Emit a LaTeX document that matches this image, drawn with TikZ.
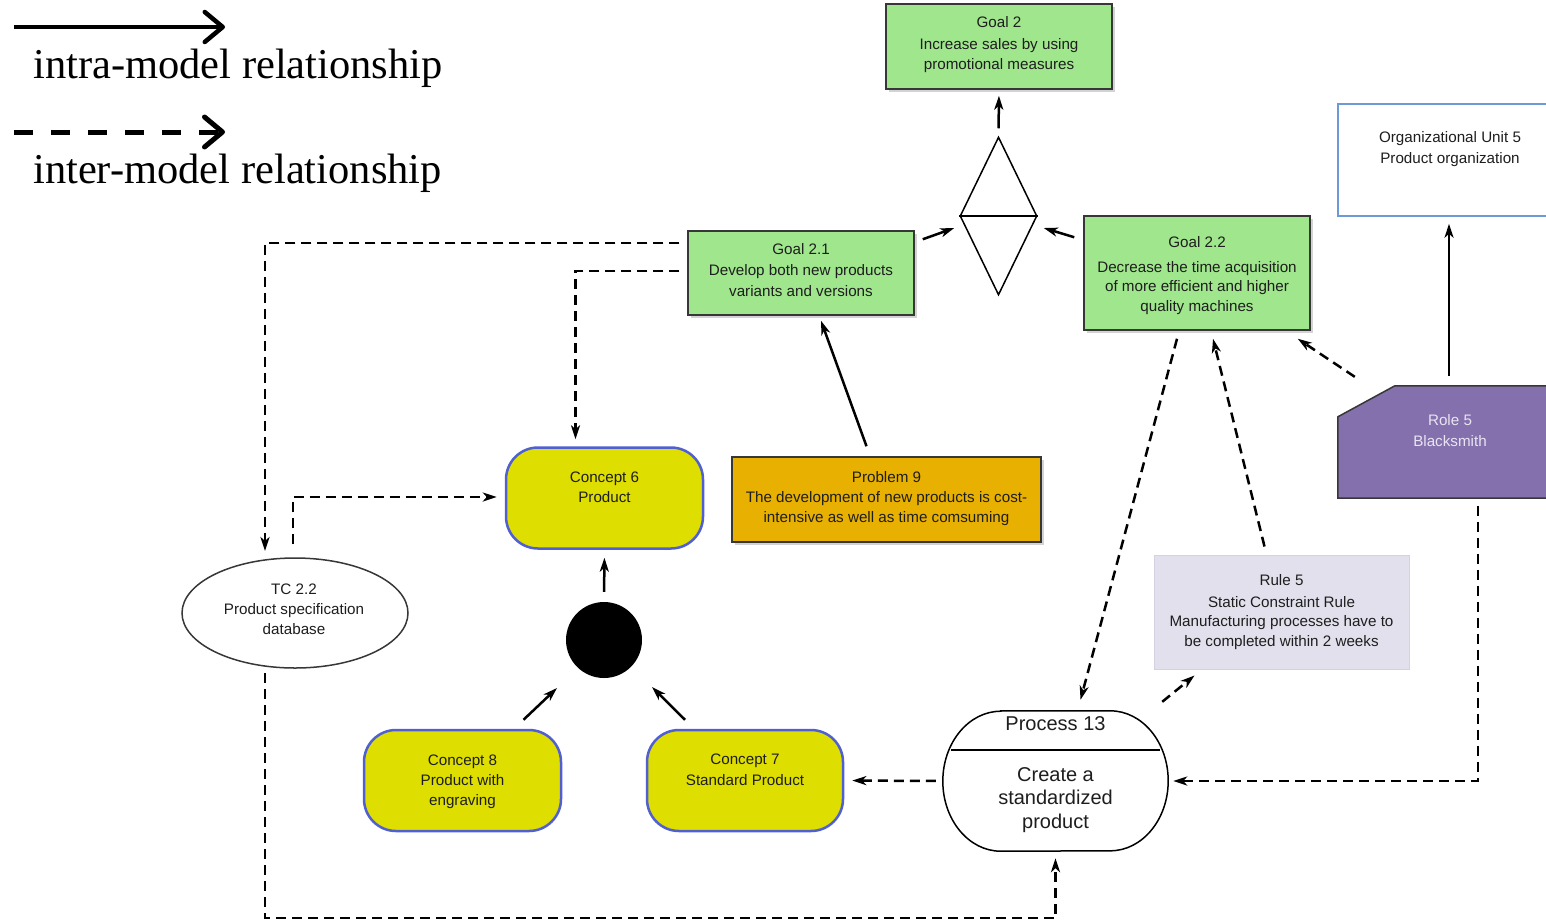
\documentclass[tikz,border=0pt]{standalone}
\usepackage{fontspec}
\setmainfont{Liberation Serif}
\newfontfamily\boxfont{Liberation Sans}
\usetikzlibrary{arrows.meta,calc,shapes.geometric,shadows}

\definecolor{goalgreen}{RGB}{160,230,140}
\definecolor{probfill}{RGB}{232,176,0}
\definecolor{conceptfill}{RGB}{222,222,0}
\definecolor{conceptline}{RGB}{80,96,208}
\definecolor{rolefill}{RGB}{132,112,172}
\definecolor{roletext}{RGB}{232,228,242}
\definecolor{rulefill}{RGB}{226,224,236}
\definecolor{ruleline}{RGB}{212,210,226}
\definecolor{orgline}{RGB}{108,154,216}
\definecolor{boxline}{RGB}{55,55,55}
\definecolor{textdark}{RGB}{30,30,30}

\newcommand\bxf{\boxfont\fontsize{15.2}{19.5}\selectfont}
\newcommand\pxf{\boxfont\fontsize{20}{23.5}\selectfont}
\newcommand\lgf{\fontsize{42.5}{50}\selectfont}

% multi-line texts are placed by the baseline of their last line
\tikzset{
  intra/.style={line width=2.5pt, -{Stealth[length=14pt,width=9pt,inset=4pt]}},
  inter/.style={intra, dash pattern=on 10pt off 6pt},
  boxtext/.style={font=\bxf, text=textdark, align=center, anchor=base, inner sep=0pt},
  boxshadow/.style={drop shadow={shadow xshift=3pt, shadow yshift=-3pt, opacity=0.35}},
  goalbox/.style={rectangle, draw=boxline, line width=1.5pt, fill=goalgreen, inner sep=0pt, boxshadow},
  probbox/.style={rectangle, draw=boxline, line width=1.5pt, fill=probfill, inner sep=0pt, boxshadow},
  conceptbox/.style={rectangle, rounded corners=32pt, draw=conceptline, line width=2.5pt, fill=conceptfill,
    inner sep=0pt, minimum width=197pt, minimum height=101pt},
  legendline/.style={line width=4.5pt, -{Straight Barb[length=18pt,width=30pt,round]}},
}

\begin{document}
\begin{tikzpicture}[x=1pt,y=-1pt]
\useasboundingbox (0,0) rectangle (1546,922);
\clip (0,0) rectangle (1546,922);

% legend
\coordinate (l1a) at (14,27);
\coordinate (l1b) at (225,27);
\draw[legendline] (l1a) -- (l1b);
\node[anchor=base west, inner sep=0pt, font=\lgf] (leg1) at (33,78) {intra-model relationship};
\coordinate (l2a) at (14,132);
\coordinate (l2b) at (225,132);
\draw[legendline, line width=5pt, dash pattern=on 19pt off 18pt] (l2a) -- (l2b);
\node[anchor=base west, inner sep=0pt, font=\lgf] (leg2) at (33,183) {inter-model relationship};

% goals
\node[goalbox, minimum width=226pt, minimum height=85pt] (g2) at (999,46.5) {};
\node[boxtext] (g2t) at (999,69) {Goal 2\\[2.5pt]Increase sales by using\\promotional measures};
\node[goalbox, minimum width=226pt, minimum height=84pt] (g21) at (801,273) {};
\node[boxtext] (g21t) at (801,296) {Goal 2.1\\[1.5pt]Develop both new products\\[1pt]variants and versions};
\node[goalbox, minimum width=226pt, minimum height=114pt] (g22) at (1197,273) {};
\node[boxtext] (g22t) at (1197,311) {Goal 2.2\\[5pt]Decrease the time acquisition\\of more efficient and higher\\quality machines};

% goal decomposition
\node[diamond, draw=black, line width=1.5pt, fill=white, inner sep=0pt,
      minimum width=77pt, minimum height=158pt] (dia) at (998.5,216) {};
\draw[line width=1.5pt] (dia.west) -- (dia.east);

% organizational unit and role
\node[rectangle, draw=orgline, line width=1.5pt, fill=white, inner sep=0pt,
      minimum width=222pt, minimum height=112pt] (org) at (1449,160) {};
\node[boxtext] (orgt) at (1450,163) {Organizational Unit 5\\[1.5pt]Product organization};
\node[rectangle, inner sep=0pt, minimum width=222pt, minimum height=112pt] (role) at (1449,442) {};
\filldraw[fill=rolefill, draw=boxline, line width=1.5pt]
  (role.south west) -- ($(role.north west)+(0,31)$) -- ($(role.north west)+(57,0)$)
  -- (role.north east) -- (role.south east) -- cycle;
\node[boxtext, text=roletext] (rolet) at (1450,446) {Role 5\\[1.5pt]Blacksmith};

% problem
\node[probbox, minimum width=309pt, minimum height=85pt] (p9) at (886.5,499.5) {};
\node[boxtext] (p9t) at (886.5,522) {Problem 9\\[0.5pt]The development of new products is cost-\\intensive as well as time comsuming};

% concepts
\node[conceptbox] (c6) at (604.5,498) {};
\node[boxtext] (c6t) at (604.5,502) {Concept 6\\[0.5pt]Product};
\node[circle, fill=black, inner sep=0pt, minimum size=76pt] (dot) at (604,640) {};
\node[conceptbox] (c8) at (462.5,780.5) {};
\node[boxtext] (c8t) at (462.5,805) {Concept 8\\[1pt]Product with\\engraving};
\node[conceptbox, minimum width=196pt] (c7) at (745,780.5) {};
\node[boxtext] (c7t) at (745,785) {Concept 7\\[1pt]Standard Product};

% technical component
\node[ellipse, draw=boxline, line width=1.5pt, fill=white, inner sep=0pt,
      minimum width=226pt, minimum height=110pt] (tc) at (295,613) {};
\node[boxtext] (tct) at (294,634) {TC 2.2\\[0.5pt]Product specification\\database};

% rule
\node[rectangle, draw=ruleline, line width=1pt, fill=rulefill, inner sep=0pt,
      minimum width=255pt, minimum height=114pt] (rule) at (1281.5,612) {};
\node[boxtext] (rulet) at (1281.5,646) {Rule 5\\[2.5pt]Static Constraint Rule\\Manufacturing processes have to\\be completed within 2 weeks};

% process: flat top and bottom with half-elliptic ends
\node[rectangle, inner sep=0pt, minimum width=225pt, minimum height=140pt] (proc) at (1055.5,781) {};
\draw[line width=1.5pt, fill=white]
  ($(proc.north west)+(58,0)$) -- ($(proc.north east)+(-58,0)$)
  arc[start angle=-90, end angle=90, x radius=58, y radius=70]
  -- ($(proc.south west)+(58,0)$)
  arc[start angle=90, end angle=270, x radius=58, y radius=70] -- cycle;
\draw[line width=1.5pt] ($(proc.north west)+(8.5,39)$) -- ($(proc.north east)+(-8.5,39)$);
\node[boxtext, font=\pxf] (proct1) at (1055.5,730) {Process 13};
\node[boxtext, font=\pxf] (proct2) at (1055.5,828) {Create a\\standardized\\product};

% intra-model relationships
\draw[intra, shorten <=8pt, shorten >=6pt] (dia.north) -- (g2.south);
\draw[intra] ($(g21.north east)+(8,9)$) -- ($(dia.west)+(-5,12)$);
\draw[intra] ($(g22.north west)+(-9,22)$) -- ($(dia.east)+(6,12)$);
\draw[intra] ($(p9.north)+(-20,-10)$) -- ($(g21.south)+(20,5)$);
\draw[intra, shorten <=10pt, shorten >=8pt] (dot.north) -- (c6.south);
\draw[intra] ($(c8.north)+(61,-9)$) -- ($(dot.center)+(-47,48)$);
\draw[intra] ($(c7.north)+(-60,-9)$) -- ($(dot.center)+(48,47)$);
\draw[intra, shorten <=10pt, shorten >=7pt] (role.north) -- (org.south);

% inter-model relationships
\draw[inter] ($(role.north west)+(17,-9)$) -- ($(g22.south east)+(-13,8)$);
\draw[inter] ($(role.south)+(29,8)$) |- ($(proc.east)+(5,0)$);
\draw[inter] ($(g22.south)+(-20,8)$) -- ($(proc.north)+(25,-11)$);
\draw[inter] ($(rule.north)+(-17,-8)$) -- ($(g22.south)+(16,8)$);
\draw[inter] ($(proc.north east)+(-6,-9)$) -- ($(rule.south west)+(41,6)$);
\draw[inter, shorten <=7pt, shorten >=8pt] (proc.west) -- (c7.east);
\draw[inter] ($(g21.west)+(-8,-30)$) -| ($(tc.center)+(-30,-62)$);
\draw[inter] ($(g21.west)+(-8,-2)$) -| ($(c6.north)+(-29,-7)$);
\draw[inter] ($(tc.north)+(-2,-13)$) |- ($(c6.west)+(-8,-1)$);
\draw[inter] ($(tc.center)+(-30,60)$) -- ++(0,245) -| ($(proc.south)+(0,7)$);
\end{tikzpicture}
\end{document}
